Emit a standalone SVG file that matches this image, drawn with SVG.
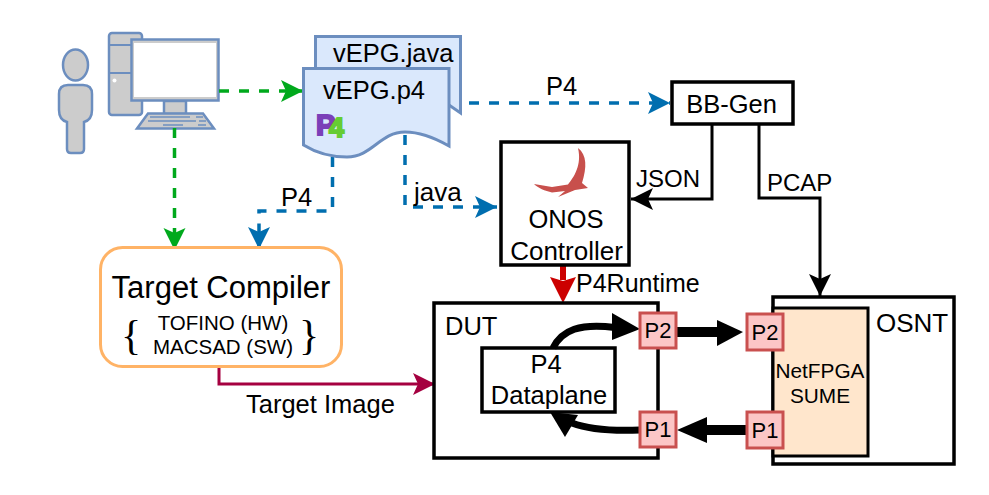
<svg xmlns="http://www.w3.org/2000/svg" width="989" height="495" viewBox="0 0 989 495">
<style>
text{font-family:"Liberation Sans",Arial,sans-serif;fill:#000}
.t{font-size:25.500px}
.l{font-size:24px}
.m{text-anchor:middle}
.box{fill:#fff;stroke:#000;stroke-width:3.500}
.port{fill:#fcc6c6;stroke:#c9504f;stroke-width:3}
.pt{font-size:22px;text-anchor:middle}
.gr{fill:#ccc;stroke:#6c8ebf;stroke-width:2.500}
.doc{fill:#dae8fc;stroke:#6c8ebf;stroke-width:3}
.dg{fill:none;stroke:#00a91c;stroke-width:3.500;stroke-dasharray:10 10}
.db{fill:none;stroke:#006eaf;stroke-width:3.500;stroke-dasharray:10 10}
.k{fill:none;stroke:#000;stroke-width:3}
.kk{fill:none;stroke:#000;stroke-width:7}
</style>
<defs>
<marker id="ag" markerUnits="userSpaceOnUse" markerWidth="24" markerHeight="24" refX="22" refY="11" orient="auto"><path d="M0 0L22 11L0 22L5 11Z" fill="#00a91c"/></marker>
<marker id="ab" markerUnits="userSpaceOnUse" markerWidth="24" markerHeight="24" refX="22" refY="11" orient="auto"><path d="M0 0L22 11L0 22L5 11Z" fill="#006eaf"/></marker>
<marker id="ak" markerUnits="userSpaceOnUse" markerWidth="24" markerHeight="24" refX="22" refY="11" orient="auto"><path d="M0 0L22 11L0 22L5 11Z" fill="#000"/></marker>
<marker id="ac" markerUnits="userSpaceOnUse" markerWidth="24" markerHeight="24" refX="22" refY="11" orient="auto"><path d="M0 0L22 11L0 22L5 11Z" fill="#a50040"/></marker>
</defs>
<g id="user"><ellipse class="gr" cx="75.500" cy="65" rx="12.500" ry="15.500"/><path class="gr" d="M68 85H83Q92 85 92 94V110Q92 120 84 122V149Q84 153 80 153H71Q67 153 67 149V122Q59 120 59 110V94Q59 85 68 85Z"/></g>
<g id="computer">
<rect class="gr" x="109" y="33" width="33" height="82" rx="3"/><path d="M109 45H142M109 73H142" fill="none" stroke="#6c8ebf" stroke-width="2"/><circle cx="114.500" cy="80.500" r="2" fill="#fff"/>
<rect class="gr" x="164" y="101" width="22" height="13"/>
<rect x="131.500" y="39.500" width="87" height="61" fill="#ccc" stroke="#6c8ebf" stroke-width="2.500"/><rect x="134" y="43" width="82" height="54" fill="#fff"/>
<path class="gr" d="M137 128.500L148 113.500H203L214 128.500Z"/><path d="M150 117H190M196 117H203M148 121H196M199 121H206M163 125H183M198 125H206" fill="none" stroke="#6c8ebf" stroke-width="1.500"/>
</g>
<g id="connectors">
<path class="dg" d="M219 91H303" marker-end="url(#ag)"/>
<path class="dg" d="M174.500 128V250" marker-end="url(#ag)"/>
<path class="db" d="M449 103H670" marker-end="url(#ab)"/>
<path class="db" d="M405 135V207H497" marker-end="url(#ab)"/>
<path class="db" d="M332.500 157V211H259V249" marker-end="url(#ab)"/>
<path class="k" d="M712 124V199H631" marker-end="url(#ak)"/>
<path class="k" d="M759 124V198H820V296" marker-end="url(#ak)"/>
<path d="M219 367V384H435" fill="none" stroke="#a50040" stroke-width="3" marker-end="url(#ac)"/>
<path d="M563 265V280" fill="none" stroke="#c00" stroke-width="6"/><path d="M550 277L563 281L576 277L563 303Z" fill="#c00"/>
</g>
<g id="doc-java"><path class="doc" d="M315.500 36.500H460.500V113L449 105H315.500Z"/><text class="t" x="333" y="62">vEPG.java</text></g>
<g id="doc-p4"><path class="doc" d="M303.500 68.500H449V146C435 138 420 132 405 132C380 132 372 157 347 157C332 157 318 154 303.500 145Z"/><text class="t" x="323" y="99">vEPG.p4</text>
<text x="316" y="135" font-size="29" font-weight="700" stroke="#7b3fb8" stroke-width="2" style="fill:#7b3fb8">P</text><text x="329" y="137" font-size="27" font-weight="700" stroke="#66cc33" stroke-width="2" style="fill:#66cc33">4</text></g>
<g id="bbgen"><rect class="box" x="672" y="82" width="121" height="42"/><text class="t m" x="731.500" y="113">BB-Gen</text></g>
<g id="onos"><rect class="box" x="501" y="142" width="128" height="123"/>
<path d="M578 148C587 155 587 167 582 183L588 188L575 190L558 197L565 191L552 192.500C545 191 538 188 534 184L552 187L568 184.500C574 177 582 165 578 148Z" fill="#c8504c"/>
<text class="t m" x="566" y="228">ONOS</text><text class="t m" x="566.500" y="260" style="font-size:26px">Controller</text></g>
<g id="compiler"><rect x="100.500" y="247.500" width="241" height="119" rx="22" fill="#fff" stroke="#ffb366" stroke-width="3"/><text x="221" y="298" font-size="31" class="m">Target Compiler</text>
<text class="m" x="223" y="330" font-size="20.500">TOFINO (HW)</text><text class="m" x="223" y="354" font-size="20.500">MACSAD (SW)</text>
<text class="m" x="131" y="349" font-size="42" style="font-family:'Liberation Serif',serif">{</text><text class="m" x="309" y="349" font-size="42" style="font-family:'Liberation Serif',serif">}</text></g>
<g id="dut"><rect class="box" x="434" y="303" width="224" height="155"/><text class="t" x="445" y="335">DUT</text></g>
<g id="dataplane"><rect class="box" x="482" y="348" width="133" height="64"/><text class="t m" x="546" y="373">P4</text><text class="t m" x="549" y="404">Dataplane</text></g>
<g id="osnt"><rect class="box" x="773" y="297" width="181" height="167"/><text class="t" x="876" y="332" style="font-size:26px">OSNT</text></g>
<g id="sume"><rect x="773" y="308" width="95" height="148" fill="#ffe6cc" stroke="#000" stroke-width="3"/><text class="m" x="820" y="378" font-size="20.800">NetFPGA</text><text class="m" x="820" y="403" font-size="20.800">SUME</text></g>
<g id="links">
<path class="kk" d="M553 348C562 330 580 323 615 327.500"/><path d="M612 313L640 329L612 340Z"/>
<path class="kk" d="M640 430C615 431 590 430 572 423"/><path d="M550 412L578 415L565 437Z"/>
<path d="M676 327H720V337H676Z"/><path d="M717 320L743 332L717 346Z"/>
<path d="M747 425H705V435H747Z"/><path d="M707 417L677 430L707 443Z"/>
</g>
<g id="dut-p2"><rect class="port" x="640" y="313" width="36" height="35"/><text class="pt" x="658" y="338">P2</text></g>
<g id="dut-p1"><rect class="port" x="640" y="412" width="36" height="35"/><text class="pt" x="658" y="437">P1</text></g>
<g id="osnt-p2"><rect class="port" x="747" y="314" width="36" height="36"/><text class="pt" x="765" y="340">P2</text></g>
<g id="osnt-p1"><rect class="port" x="747" y="412" width="36" height="36"/><text class="pt" x="765" y="438">P1</text></g>
<g id="labels">
<text class="t" x="546" y="95">P4</text><text class="t" x="281" y="206">P4</text><text class="t" x="414" y="201" style="font-size:26px">java</text>
<text class="l" x="636" y="187">JSON</text><text class="l" x="767" y="191">PCAP</text>
<text class="t" x="576" y="292" style="font-size:25px">P4Runtime</text><text class="t" x="246" y="413">Target Image</text>
</g>
</svg>
